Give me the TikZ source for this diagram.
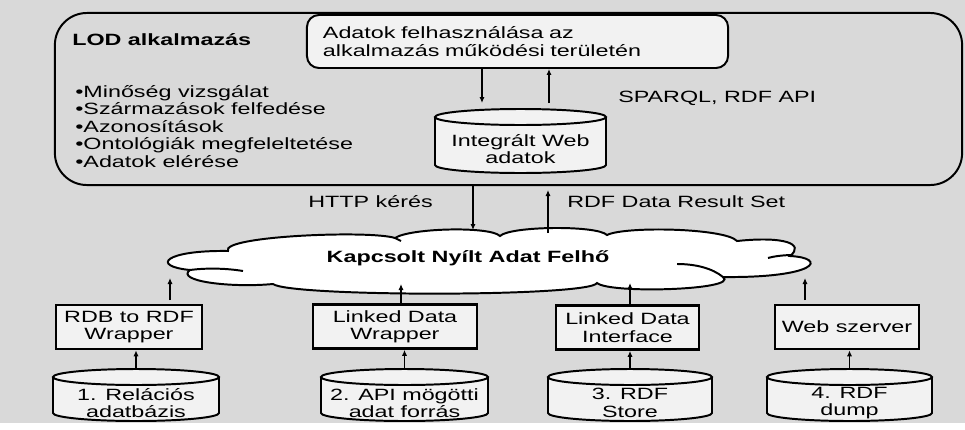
\documentclass[tikz,border=0pt]{standalone}
\usepackage{fontspec}
\setmainfont{Liberation Sans}[FakeStretch=1.43]
\usetikzlibrary{arrows.meta}

\definecolor{bggray}{HTML}{D9D9D9}
\definecolor{boxfill}{HTML}{F2F2F2}

\tikzset{
	flow/.style={line width=1.1pt,-{Latex[length=1.5mm,width=1.3mm]}},
	wrapbox/.style={draw,line width=1.9pt,fill=boxfill,minimum height=1.1cm,align=center,inner sep=0pt},
	txt/.style={inner sep=0pt}
}

% x, top, bottom, half width of a data store
\newcommand{\datastore}[6]{%
	\fill[boxfill] (#2-#5,#3) rectangle (#2+#5,#4);
	\fill[boxfill] (#2,#4) ellipse[x radius=#5,y radius=8];
	\draw[line width=1.4pt] (#2-#5,#3) -- (#2-#5,#4) arc[start angle=180,end angle=0,x radius=#5,y radius=8] -- (#2+#5,#3);
	\draw[line width=1.4pt,fill=boxfill] (#2,#3) ellipse[x radius=#5,y radius=8];
	\coordinate (#1top) at (#2,#3-8);
	\node[txt,align=center] (#1) at (#2,{(#3+#4)/2+8}) {#6};
}

\begin{document}
\begin{tikzpicture}[x=0.025cm,y=-0.025cm,font=\fontsize{11.6}{12.4}\selectfont]
	\useasboundingbox (0,0) rectangle (965,429);
	\fill[bggray] (0,0) rectangle (965,423);
	\fill[white] (0,423) rectangle (965,429);

	% LOD application
	\node[draw,line width=1.4pt,rounded corners=0.8cm,minimum width=22.675cm,minimum height=4.3cm] (lod) at (508.5,99) {};
	\node[txt,anchor=base west,font=\fontsize{11.6}{12.4}\selectfont\bfseries] (lodtitle) at (72,45) {LOD alkalmazás};
	\node[txt,anchor=base west,align=left] (tasks) at (75,167) {•Minőség vizsgálat\\•Származások felfedése\\•Azonosítások\\•Ontológiák megfeleltetése\\•Adatok elérése};
	\node[draw,line width=1.4pt,fill=boxfill,rounded corners=0.3cm,minimum height=1.325cm,text width=9.725cm,align=left,inner xsep=0.4cm,inner ysep=0pt] (usage) at (517.5,41.5) {Adatok felhasználása az\\alkalmazás működési területén};
	\datastore{web}{520.5}{117}{165}{85.5}{Integrált Web\\adatok}
	\node[txt,anchor=base west] (sparql) at (618,102) {SPARQL, RDF API};

	\coordinate (webq) at (482,103);
	\coordinate (webr) at (549,103);
	\draw[flow] (usage.south -| webq) -- (webq);
	\draw[flow] (webr) -- (usage.south -| webr);

	% cloud
	\draw[line width=1.4pt,fill=white] (228,251) .. controls (220,236) and (370,230) .. (395,238)
		.. controls (410,228) and (490,226) .. (500,236)
		.. controls (510,226) and (597,225) .. (607,235)
		.. controls (625,226) and (725,228) .. (737,241)
		.. controls (785,236) and (805,244) .. (790,256)
		.. controls (828,258) and (818,278) .. (723,277)
		.. controls (740,290) and (610,294) .. (597,283)
		.. controls (590,297) and (290,297) .. (273,284)
		.. controls (230,288) and (175,281) .. (190,270)
		.. controls (150,266) and (165,250) .. (228,251) -- cycle;
	\draw[line width=1.4pt] (190,270) .. controls (205,268) and (225,268) .. (243,271);
	\draw[line width=1.4pt] (677,264) .. controls (695,264) and (712,268) .. (723,277);
	\draw[line width=1.4pt] (768,258) .. controls (775,256) and (785,255) .. (793,255);
	\draw[line width=1.4pt] (395,238) -- (401,241);
	\node[txt,anchor=base,font=\fontsize{11.6}{12.4}\selectfont\bfseries] (cloud) at (468,262) {Kapcsolt Nyílt Adat Felhő};

	\node[txt,anchor=base west] (http) at (308,207) {HTTP kérés};
	\node[txt,anchor=base west] (result) at (567,207) {RDF Data Result Set};
	\coordinate (httpend) at (473,230);
	\coordinate (rdfstart) at (548,233);
	\coordinate (rdfend) at (548,190);
	\draw[flow] (lod.south -| httpend) -- (httpend);
	\draw[flow] (rdfstart) -- (rdfend);

	% wrappers
	\node[wrapbox,minimum width=3.65cm] (rdb) at (129,327) {RDB to RDF\\Wrapper};
	\node[wrapbox,minimum width=4.1cm] (ldw) at (395,326.5) {Linked Data\\Wrapper};
	\node[wrapbox,minimum width=3.575cm] (ldi) at (627.5,327.5) {Linked Data\\Interface};
	\node[wrapbox,minimum width=3.6cm] (websrv) at (847,327) {Web szerver};

	\coordinate (up1s) at (170,300);
	\coordinate (up1e) at (170,278);
	\coordinate (up2e) at (401,284);
	\coordinate (up3e) at (630,283);
	\coordinate (up4s) at (805,300);
	\coordinate (up4e) at (805,278);
	\draw[flow] (up1s) -- (up1e);
	\draw[flow] (ldw.north -| up2e) -- (up2e);
	\draw[flow] (ldi.north -| up3e) -- (up3e);
	\draw[flow] (up4s) -- (up4e);

	% sources
	\datastore{rel}{136}{377}{413}{83}{1. Relációs\\adatbázis}
	\datastore{api}{404.5}{377}{413}{83.5}{2. API mögötti\\adat forrás}
	\datastore{store}{630}{377}{413}{82}{3. RDF\\Store}
	\datastore{dump}{849.5}{377}{413}{82.5}{4. RDF\\dump}

	\draw[flow] (reltop) -- (reltop |- rdb.south);
	\draw[flow] (apitop) -- (apitop |- ldw.south);
	\draw[flow] (storetop) -- (storetop |- ldi.south);
	\draw[flow] (dumptop) -- (dumptop |- websrv.south);
\end{tikzpicture}
\end{document}
